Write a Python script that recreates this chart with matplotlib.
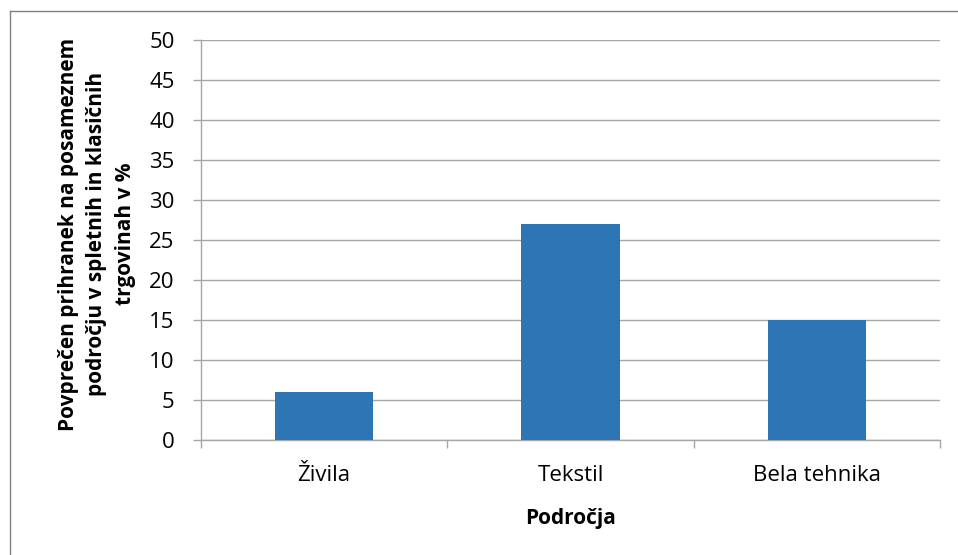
import matplotlib.pyplot as plt
from matplotlib.lines import Line2D

# === Data ===
categories = ["Živila", "Tekstil", "Bela tehnika"]
values = [6, 27, 15]
y_ticks = [0, 5, 10, 15, 20, 25, 30, 35, 40, 45, 50]

BAR_COLOR = "#2E75B6"
GRID_COLOR = "#A6A6A6"

plt.rcParams["font.family"] = ["Open Sans", "DejaVu Sans"]
FS = 16

fig = plt.figure(figsize=(9.58, 5.55), dpi=100)
ax = fig.add_axes([201 / 958, 1 - 440 / 555, 739 / 958, 400 / 555])

x = list(range(len(categories)))
ax.bar(x, values, width=0.4, color=BAR_COLOR, zorder=3)

ax.set_xlim(-0.5, len(categories) - 0.5)
ax.set_ylim(0, 50)
ax.set_yticks(y_ticks)
ax.set_yticklabels([str(v) for v in y_ticks], fontsize=FS)
ax.yaxis.grid(True, color=GRID_COLOR, linewidth=1, zorder=0)

# category ticks at boundaries, labels at centers
ax.set_xticks([i - 0.5 for i in range(len(categories) + 1)])
ax.set_xticklabels([])
ax.set_xticks(x, minor=True)
ax.set_xticklabels(categories, minor=True, fontsize=FS)
ax.tick_params(axis="x", which="minor", length=0, pad=18)
ax.tick_params(axis="x", which="major", length=6, color=GRID_COLOR, width=1)
ax.tick_params(axis="y", length=6, color=GRID_COLOR, width=1, pad=13)

for side in ["top", "right"]:
    ax.spines[side].set_visible(False)
for side in ["left", "bottom"]:
    ax.spines[side].set_color(GRID_COLOR)
    ax.spines[side].set_linewidth(1)

ax.set_xlabel("Področja", fontsize=15, fontweight="bold", labelpad=16)
fig.text(97 / 958, 1 - 234 / 555,
         "Povprečen prihranek na posameznem\npodročju v spletnih in klasičnih\ntrgovinah v %",
         rotation=90, ha="center", va="center", fontsize=15, fontweight="bold",
         multialignment="center", linespacing=1.45)

# outer chart border (top and left visible)
fig.add_artist(Line2D([10 / 958, 1.0], [1 - 11 / 555, 1 - 11 / 555], color="#808080", lw=1))
fig.add_artist(Line2D([10 / 958, 10 / 958], [0.0, 1 - 11 / 555], color="#808080", lw=1))

fig.savefig("out.png", dpi=100)
